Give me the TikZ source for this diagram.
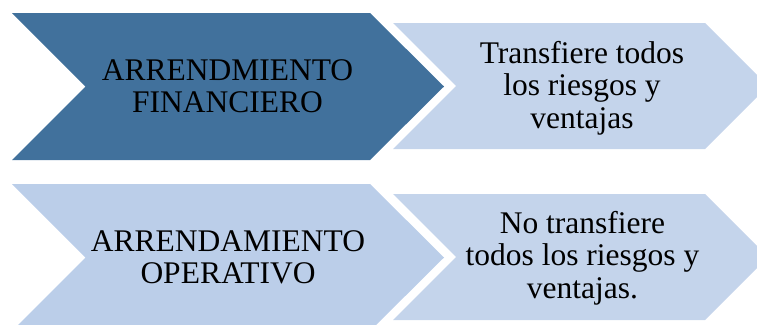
\documentclass[tikz,border=0pt]{standalone}
\usepackage{fontspec}
\setmainfont{Liberation Serif}
\definecolor{darkblue}{RGB}{65,113,156}
\definecolor{midblue}{RGB}{187,206,233}
\definecolor{lightblue}{RGB}{196,212,235}
\tikzset{
  lbl/.style={align=center, inner sep=0pt, font=\fontsize{31.5}{32.5}\selectfont, text=black},
}
\begin{document}
\begin{tikzpicture}[x=1pt,y=-1pt]
\useasboundingbox (0,0) rectangle (757,324);
\clip (0,0) rectangle (757,324);
% right chevrons (behind)
\fill[lightblue] (393,23) -- (705,23) -- (768,86) -- (705,149) -- (393,149) -- (456,86) -- cycle;
\fill[lightblue] (393,194) -- (705,194) -- (768,257) -- (705,320) -- (393,320) -- (456,257) -- cycle;
% left chevrons
\fill[darkblue] (12,13) -- (370,13) -- (444,86.5) -- (370,160) -- (12,160) -- (85.5,86.5) -- cycle;
\fill[midblue] (12,184) -- (370,184) -- (444,257.5) -- (370,331) -- (12,331) -- (85.5,257.5) -- cycle;
% labels
\node[lbl] (fin) at (227.5,86) {ARRENDMIENTO\\FINANCIERO};
\node[lbl] (finr) at (582,88) {Transfiere todos\\los riesgos y\\ventajas};
\node[lbl] (ope) at (228,257.5) {ARRENDAMIENTO\\OPERATIVO};
\node[lbl] (oper) at (582.5,258) {No transfiere\\todos los riesgos y\\ventajas.};
\end{tikzpicture}
\end{document}
